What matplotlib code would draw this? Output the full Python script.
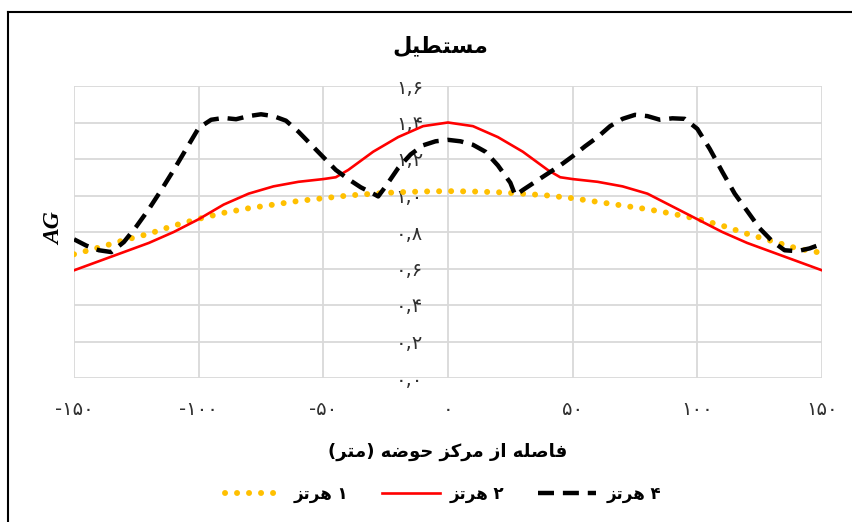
import matplotlib
matplotlib.use('Agg')
import matplotlib.pyplot as plt
from matplotlib.lines import Line2D
from matplotlib.ticker import FixedLocator, FuncFormatter

# داده‌ها (خوانده شده از نمودار)
x_red = [-150, -140, -130, -120, -110, -100, -90, -80, -70, -60, -50, -45, -40, -30, -20, -10, 0,
         10, 20, 30, 40, 45, 50, 60, 70, 80, 90, 100, 110, 120, 130, 140, 150]
y_red = [0.59, 0.64, 0.69, 0.74, 0.80, 0.87, 0.95, 1.01, 1.05, 1.075, 1.09, 1.10, 1.14, 1.24, 1.32, 1.38, 1.40,
         1.38, 1.32, 1.24, 1.14, 1.10, 1.09, 1.075, 1.05, 1.01, 0.94, 0.87, 0.80, 0.74, 0.69, 0.64, 0.59]

x_yel = list(range(-150, 151, 10))
y_yel = [0.678, 0.715, 0.755, 0.79, 0.835, 0.872, 0.905, 0.93, 0.95, 0.97, 0.985, 1.0, 1.01, 1.018, 1.022,
         1.024,
         1.022, 1.018, 1.01, 1.0, 0.985, 0.965, 0.945, 0.925, 0.90, 0.872, 0.835, 0.79, 0.75, 0.71, 0.685]

x_blk = [-150, -145, -140, -135, -130, -125, -120, -115, -110, -105, -100, -95, -90, -85, -80, -75, -70,
         -65, -60, -55, -50, -45, -40, -35, -30, -28, -25, -20, -15, -10, -5, 0,
         5, 10, 15, 20, 25, 27, 30, 35, 40, 45, 50, 55, 60, 65, 70, 75, 80, 85, 90, 95,
         100, 105, 110, 115, 120, 125, 130, 135, 140, 145, 150]
y_blk = [0.76, 0.725, 0.70, 0.69, 0.745, 0.83, 0.925, 1.03, 1.14, 1.255, 1.37, 1.415, 1.425, 1.418, 1.435, 1.445, 1.435,
         1.41, 1.35, 1.28, 1.21, 1.14, 1.09, 1.045, 1.01, 0.995, 1.05, 1.15, 1.225, 1.275, 1.297, 1.305,
         1.297, 1.278, 1.24, 1.165, 1.07, 1.0, 1.03, 1.075, 1.12, 1.165, 1.215, 1.27, 1.32, 1.38, 1.42, 1.442,
         1.435, 1.415, 1.423, 1.42,
         1.365, 1.255, 1.13, 1.01, 0.915, 0.82, 0.75, 0.70, 0.695, 0.71, 0.735]

x_ticks = [-150, -100, -50, 0, 50, 100, 150]
y_ticks = [0.0, 0.2, 0.4, 0.6, 0.8, 1.0, 1.2, 1.4, 1.6]

title_fa = 'مستطیل'
xlabel_fa = 'فاصله از مرکز حوضه (متر)'
legend_fa = ['۱ هرتز', '۲ هرتز', '۴ هرتز']

# --- شکل‌دهی ساده حروف فارسی (matplotlib حروف را به هم نمی‌چسباند) ---
FORMS = {
    'ا': ('\uFE8D', '\uFE8E', None, None),
    'ت': ('\uFE95', '\uFE96', '\uFE97', '\uFE98'),
    'ح': ('\uFEA1', '\uFEA2', '\uFEA3', '\uFEA4'),
    'ر': ('\uFEAD', '\uFEAE', None, None),
    'ز': ('\uFEAF', '\uFEB0', None, None),
    'س': ('\uFEB1', '\uFEB2', '\uFEB3', '\uFEB4'),
    'ص': ('\uFEB9', '\uFEBA', '\uFEBB', '\uFEBC'),
    'ض': ('\uFEBD', '\uFEBE', '\uFEBF', '\uFEC0'),
    'ط': ('\uFEC1', '\uFEC2', '\uFEC3', '\uFEC4'),
    'ف': ('\uFED1', '\uFED2', '\uFED3', '\uFED4'),
    'ل': ('\uFEDD', '\uFEDE', '\uFEDF', '\uFEE0'),
    'م': ('\uFEE1', '\uFEE2', '\uFEE3', '\uFEE4'),
    'ه': ('\uFEE9', '\uFEEA', '\uFEEB', '\uFEEC'),
    'و': ('\uFEED', '\uFEEE', None, None),
    'ک': ('\uFB8E', '\uFB8F', '\uFB90', '\uFB91'),
    'ی': ('\uFBFC', '\uFBFD', '\uFBFE', '\uFBFF'),
}


def shape(s):
    out = []
    for i, c in enumerate(s):
        if c not in FORMS:
            out.append(c)
            continue
        prev = s[i - 1] if i > 0 else ''
        nxt = s[i + 1] if i + 1 < len(s) else ''
        j_prev = prev in FORMS and FORMS[prev][2] is not None
        j_next = FORMS[c][2] is not None and nxt in FORMS
        iso, fin, ini, med = FORMS[c]
        if j_prev and j_next:
            out.append(med)
        elif j_prev:
            out.append(fin)
        elif j_next:
            out.append(ini)
        else:
            out.append(iso)
    return ''.join(out)


def rtl(s):
    # راست به چپ: ترتیب نمایش معکوس، پرانتزها قرینه
    swap = {'(': ')', ')': '('}
    return ''.join(swap.get(c, c) for c in reversed(shape(s)))


fa_digits = str.maketrans('0123456789', '۰۱۲۳۴۵۶۷۸۹')


def fa_num(txt):
    return txt.translate(fa_digits)


plt.rcParams['font.family'] = ['DejaVu Sans']

fig = plt.figure(figsize=(8.52, 5.22), dpi=100)
ax = fig.add_axes([74 / 852, 1 - 378 / 522, 748 / 852, 292 / 522])

l1, = ax.plot(x_yel, y_yel, color='#FFC000', linewidth=4.3, linestyle=(0, (0.01, 2.0)),
              dash_capstyle='round', zorder=3)
l2, = ax.plot(x_red, y_red, color='#FF0000', linewidth=1.9, zorder=3)
l4, = ax.plot(x_blk, y_blk, color='black', linewidth=3.2, linestyle=(0, (3.6, 2.0)), zorder=3)

ax.set_xlim(-150, 150)
ax.set_ylim(0, 1.6)
ax.xaxis.set_major_locator(FixedLocator(x_ticks))
ax.yaxis.set_major_locator(FixedLocator(y_ticks))
ax.xaxis.set_major_formatter(FuncFormatter(lambda v, p: fa_num('%d' % v)))
ax.yaxis.set_major_formatter(FuncFormatter(lambda v, p: fa_num(('%.1f' % v).replace('.', ','))))

ax.grid(True, color='#d9d9d9', linewidth=1.3)
ax.set_axisbelow(True)
for s in ax.spines.values():
    s.set_visible(False)
ax.spines['left'].set_position(('data', 0))
ax.tick_params(axis='both', length=0, labelsize=14, colors='#303030')
ax.tick_params(axis='y', pad=18)
ax.tick_params(axis='x', pad=16)

fig.text(440 / 852, 1 - 46 / 522, rtl(title_fa), ha='center', va='center',
         fontsize=16, fontweight='bold')
ax.set_xlabel(rtl(xlabel_fa), fontsize=13, fontweight='bold', labelpad=17)
fig.text(55 / 852, 1 - 229 / 522, 'AG', rotation=90, ha='center', va='center',
         fontsize=17, fontweight='bold', fontstyle='italic', family='Liberation Serif')

labels = [rtl(t) for t in legend_fa]
fig.legend([l1, l2, l4], labels, loc='center', bbox_to_anchor=(443 / 852, 1 - 494 / 522),
           ncol=3, frameon=False, prop={'weight': 'bold', 'size': 12},
           handlelength=3.5, columnspacing=2.0, handletextpad=0.6)

# قاب نمودار (فقط لبه‌های بالا و چپ دیده می‌شود)
fig.add_artist(Line2D([8 / 852, 8 / 852], [0, 1 - 12 / 522], transform=fig.transFigure,
                      color='black', linewidth=1.5))
fig.add_artist(Line2D([8 / 852, 1], [1 - 12 / 522, 1 - 12 / 522], transform=fig.transFigure,
                      color='black', linewidth=1.5))

fig.savefig('out.png', dpi=100)
